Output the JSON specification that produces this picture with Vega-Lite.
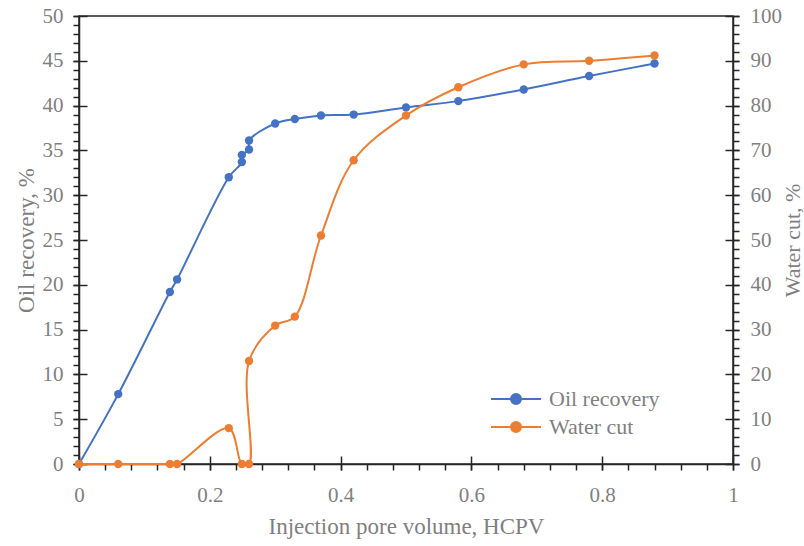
{
  "$schema": "https://vega.github.io/schema/vega-lite/v6.json",
  "autosize": "none",
  "width": 654,
  "height": 448,
  "padding": {"left": 79, "top": 16, "right": 71, "bottom": 82},
  "background": "white",
  "config": {
    "view": {"stroke": "#262626", "strokeWidth": 1.5},
    "font": "Liberation Serif",
    "axis": {
      "grid": false,
      "domainColor": "#262626",
      "domainWidth": 1.5,
      "tickColor": "#262626",
      "tickWidth": 1.5,
      "labelColor": "#7f7f7f",
      "labelFont": "Liberation Serif",
      "labelFontSize": 21,
      "titleColor": "#7f7f7f",
      "titleFont": "Liberation Serif",
      "titleFontSize": 23,
      "titleFontWeight": "normal",
      "labelOverlap": false,
      "labelFlush": false,
      "labelBound": false
    },
    "legend": {
      "labelFont": "Liberation Serif",
      "labelFontSize": 22,
      "labelColor": "#7f7f7f"
    }
  },
  "datasets": {
    "d": [
      {"i": 0, "s": "Oil recovery", "x": 0, "oil": 0},
      {"i": 1, "s": "Oil recovery", "x": 0.06, "oil": 7.8},
      {"i": 2, "s": "Oil recovery", "x": 0.139, "oil": 19.2},
      {"i": 3, "s": "Oil recovery", "x": 0.15, "oil": 20.6},
      {"i": 4, "s": "Oil recovery", "x": 0.229, "oil": 32.0},
      {"i": 5, "s": "Oil recovery", "x": 0.249, "oil": 33.7},
      {"i": 6, "s": "Oil recovery", "x": 0.249, "oil": 34.5},
      {"i": 7, "s": "Oil recovery", "x": 0.26, "oil": 35.1},
      {"i": 8, "s": "Oil recovery", "x": 0.26, "oil": 36.1},
      {"i": 9, "s": "Oil recovery", "x": 0.3, "oil": 38.0},
      {"i": 10, "s": "Oil recovery", "x": 0.33, "oil": 38.5},
      {"i": 11, "s": "Oil recovery", "x": 0.37, "oil": 38.9},
      {"i": 12, "s": "Oil recovery", "x": 0.42, "oil": 39.0},
      {"i": 13, "s": "Oil recovery", "x": 0.5, "oil": 39.8},
      {"i": 14, "s": "Oil recovery", "x": 0.58, "oil": 40.5},
      {"i": 15, "s": "Oil recovery", "x": 0.68, "oil": 41.8},
      {"i": 16, "s": "Oil recovery", "x": 0.78, "oil": 43.3},
      {"i": 17, "s": "Oil recovery", "x": 0.88, "oil": 44.7},
      {"i": 20, "s": "Water cut", "x": 0, "water": 0},
      {"i": 21, "s": "Water cut", "x": 0.06, "water": 0},
      {"i": 22, "s": "Water cut", "x": 0.139, "water": 0},
      {"i": 23, "s": "Water cut", "x": 0.15, "water": 0},
      {"i": 24, "s": "Water cut", "x": 0.229, "water": 8.0},
      {"i": 25, "s": "Water cut", "x": 0.249, "water": 0},
      {"i": 26, "s": "Water cut", "x": 0.26, "water": 0},
      {"i": 27, "s": "Water cut", "x": 0.26, "water": 23.0},
      {"i": 28, "s": "Water cut", "x": 0.3, "water": 30.9},
      {"i": 29, "s": "Water cut", "x": 0.33, "water": 32.9},
      {"i": 30, "s": "Water cut", "x": 0.37, "water": 51.0},
      {"i": 31, "s": "Water cut", "x": 0.42, "water": 67.8},
      {"i": 32, "s": "Water cut", "x": 0.5, "water": 77.8},
      {"i": 33, "s": "Water cut", "x": 0.58, "water": 84.1},
      {"i": 34, "s": "Water cut", "x": 0.68, "water": 89.2},
      {"i": 35, "s": "Water cut", "x": 0.78, "water": 90.0},
      {"i": 36, "s": "Water cut", "x": 0.88, "water": 91.2}
    ]
  },
  "data": {"name": "d"},
  "layer": [
    {
      "transform": [{"filter": "datum.s === 'Oil recovery'"}],
      "mark": {"type": "line", "interpolate": "catmull-rom", "strokeWidth": 2},
      "encoding": {
        "x": {
          "field": "x", "type": "quantitative",
          "scale": {"domain": [0, 1], "nice": false, "zero": false},
          "axis": {
            "orient": "bottom",
            "title": "Injection pore volume, HCPV",
            "values": [0, 0.04, 0.08, 0.12, 0.16, 0.2, 0.24, 0.28, 0.32, 0.36, 0.4, 0.44, 0.48, 0.52, 0.56, 0.6, 0.64, 0.68, 0.72, 0.76, 0.8, 0.84, 0.88, 0.92, 0.96, 1],
            "tickSize": 6,
            "labelPadding": 14,
            "titlePadding": 10,
            "labelExpr": "abs(datum.value*5 - round(datum.value*5)) < 1e-6 ? format(datum.value, '~g') : ''"
          }
        },
        "y": {
          "field": "oil", "type": "quantitative",
          "scale": {"domain": [0, 50], "nice": false},
          "axis": {
            "orient": "left",
            "title": "Oil recovery, %",
            "values": [0,1,2,3,4,5,6,7,8,9,10,11,12,13,14,15,16,17,18,19,20,21,22,23,24,25,26,27,28,29,30,31,32,33,34,35,36,37,38,39,40,41,42,43,44,45,46,47,48,49,50],
            "tickSize": 6,
            "labelPadding": 10,
            "titlePadding": 4,
            "labelExpr": "datum.value % 5 === 0 ? datum.label : ''"
          }
        },
        "color": {
          "field": "s", "type": "nominal",
          "scale": {"domain": ["Oil recovery", "Water cut"], "range": ["#4472C4", "#ED7D31"]},
          "legend": {
            "title": null,
            "orient": "none",
            "legendX": 426,
            "legendY": 372,
            "padding": 0,
            "symbolType": "M-2.5,0L2.5,0M-0.5,0A0.5,0.5 0 1,1 0.5,0A0.5,0.5 0 1,1 -0.5,0",
            "symbolSize": 400,
            "symbolStrokeWidth": 2,
            "labelOffset": 22,
            "rowPadding": 6,
            "encode": {"symbols": {"update": {"fill": {"scale": "color", "field": "value"}, "opacity": {"value": 1}}}}
          }
        },
        "order": {"field": "i", "type": "quantitative"}
      }
    },
    {
      "transform": [{"filter": "datum.s === 'Oil recovery'"}],
      "mark": {"type": "point", "filled": true, "size": 70, "opacity": 1, "color": "#4472C4"},
      "encoding": {
        "x": {
          "field": "x", "type": "quantitative",
          "scale": {"domain": [0, 1], "nice": false, "zero": false},
          "axis": {
            "orient": "bottom", "title": null, "labels": false, "domain": false,
            "values": [0, 0.2, 0.4, 0.6, 0.8, 1],
            "offset": -8, "tickSize": 14
          }
        },
        "y": {
          "field": "oil", "type": "quantitative",
          "scale": {"domain": [0, 50], "nice": false},
          "axis": {
            "orient": "left", "title": null, "labels": false, "domain": false,
            "values": [0, 5, 10, 15, 20, 25, 30, 35, 40, 45, 50],
            "offset": -8, "tickSize": 14
          }
        }
      }
    },
    {
      "transform": [{"filter": "datum.s === 'Water cut'"}],
      "mark": {"type": "line", "interpolate": "catmull-rom", "strokeWidth": 2},
      "encoding": {
        "x": {
          "field": "x", "type": "quantitative",
          "scale": {"domain": [0, 1], "nice": false, "zero": false},
          "axis": null
        },
        "y": {
          "field": "water", "type": "quantitative",
          "scale": {"domain": [0, 100], "nice": false},
          "axis": {
            "orient": "right",
            "title": "Water cut, %",
            "titleAngle": 270,
            "titleBaseline": "top",
            "titleFontSize": 22,
            "values": [0,2,4,6,8,10,12,14,16,18,20,22,24,26,28,30,32,34,36,38,40,42,44,46,48,50,52,54,56,58,60,62,64,66,68,70,72,74,76,78,80,82,84,86,88,90,92,94,96,98,100],
            "tickSize": 6,
            "labelPadding": 11,
            "titlePadding": 1,
            "labelExpr": "datum.value % 10 === 0 ? datum.label : ''"
          }
        },
        "color": {"field": "s", "type": "nominal", "scale": {"domain": ["Oil recovery", "Water cut"], "range": ["#4472C4", "#ED7D31"]}},
        "order": {"field": "i", "type": "quantitative"}
      }
    },
    {
      "transform": [{"filter": "datum.s === 'Water cut'"}],
      "mark": {"type": "point", "filled": true, "size": 70, "opacity": 1, "color": "#ED7D31"},
      "encoding": {
        "x": {
          "field": "x", "type": "quantitative",
          "scale": {"domain": [0, 1], "nice": false, "zero": false},
          "axis": null
        },
        "y": {
          "field": "water", "type": "quantitative",
          "scale": {"domain": [0, 100], "nice": false},
          "axis": {
            "orient": "right", "title": null, "labels": false, "domain": false,
            "values": [0, 10, 20, 30, 40, 50, 60, 70, 80, 90, 100],
            "offset": -8, "tickSize": 14
          }
        }
      }
    }
  ],
  "resolve": {"scale": {"y": "independent"}, "axis": {"x": "independent", "y": "independent"}}
}
